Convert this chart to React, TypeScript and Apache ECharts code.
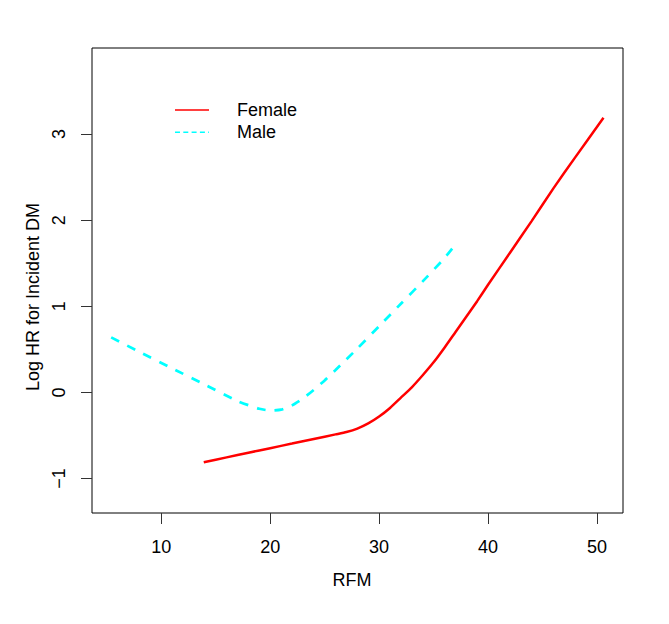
import React, { useEffect, useRef } from "react";
import * as echarts from "echarts";

const femaleX = [13.9, 16, 18, 20, 22, 24, 26, 27, 28, 29, 30, 31, 32, 33, 34, 35, 36, 37, 38, 39, 40, 42, 44, 46, 48, 50.6];
const femaleY = [-0.81, -0.754, -0.7, -0.647, -0.594, -0.54, -0.487, -0.46, -0.42, -0.36, -0.28, -0.18, -0.06, 0.06, 0.2, 0.35, 0.52, 0.7, 0.88, 1.06, 1.25, 1.62, 1.99, 2.37, 2.73, 3.19];
const maleX = [5.4, 8, 11, 14, 17, 19, 20, 21, 22, 23, 24, 25, 26, 28, 30, 32, 34, 36, 37.2];
const maleY = [0.64, 0.47, 0.28, 0.09, -0.1, -0.19, -0.21, -0.2, -0.15, -0.07, 0.03, 0.14, 0.26, 0.51, 0.77, 1.03, 1.29, 1.56, 1.75];
const xTicks = [10, 20, 30, 40, 50];
const yTicks = [-1, 0, 1, 2, 3];
const seriesNames = ["Female", "Male"];
const xTitle = "RFM";
const yTitle = "Log HR for Incident DM";

const FONT = "'Liberation Sans', Arial, Helvetica, sans-serif";

export default function App() {
  const ref = useRef<HTMLDivElement>(null);
  useEffect(() => {
    const chart = echarts.init(ref.current!, null, { renderer: "svg" });
    const zip = (xs: number[], ys: number[]) => xs.map((x, i) => [x, ys[i]]);
    chart.setOption({
      animation: false,
      backgroundColor: "#ffffff",
      grid: {
        left: 92,
        right: 46,
        top: 48,
        bottom: 111,
        show: true,
        borderColor: "#000",
        borderWidth: 1,
        backgroundColor: "transparent",
      },
      xAxis: {
        type: "value",
        min: 3.64,
        max: 52.39,
        axisLine: { show: false, onZero: false },
        splitLine: { show: false },
        axisTick: { show: true, length: 11, customValues: xTicks, lineStyle: { color: "#333", width: 1 } },
        axisLabel: { customValues: xTicks, margin: 25, fontSize: 18, fontFamily: FONT, color: "#000" },
      },
      yAxis: {
        type: "value",
        min: -1.4,
        max: 4.0,
        axisLine: { show: false, onZero: false },
        splitLine: { show: false },
        axisTick: { show: true, length: 11, customValues: yTicks, lineStyle: { color: "#333", width: 1 } },
        axisLabel: {
          customValues: yTicks,
          rotate: 90,
          margin: 24,
          fontSize: 18,
          fontFamily: FONT,
          color: "#000",
          formatter: (v: number) => String(v).replace("-", "\u2212"),
        },
      },
      series: [
        {
          name: seriesNames[0],
          type: "line",
          data: zip(femaleX, femaleY),
          symbol: "none",
          smooth: 0.2,
          lineStyle: { color: "#FF0000", width: 2.5 },
        },
        {
          name: seriesNames[1],
          type: "line",
          data: zip(maleX, maleY),
          symbol: "none",
          smooth: 0.2,
          lineStyle: { color: "#00FFFF", width: 2.7, type: [9, 9] },
        },
      ],
      graphic: [
        { type: "line", shape: { x1: 175, y1: 110, x2: 209, y2: 110 }, style: { stroke: "#FF0000", lineWidth: 1.3 } },
        { type: "line", shape: { x1: 175, y1: 132.3, x2: 209, y2: 132.3 }, style: { stroke: "#00FFFF", lineWidth: 1.5, lineDash: [5, 3.3] } },
        { type: "text", x: 237, y: 110, style: { text: seriesNames[0], fill: "#000", font: `18px ${FONT}`, textAlign: "left", textVerticalAlign: "middle" } },
        { type: "text", x: 237, y: 132.3, style: { text: seriesNames[1], fill: "#000", font: `18px ${FONT}`, textAlign: "left", textVerticalAlign: "middle" } },
        { type: "text", x: 352, y: 580, style: { text: xTitle, fill: "#000", font: `18px ${FONT}`, textAlign: "center", textVerticalAlign: "middle" } },
        { type: "text", x: 32.5, y: 297, rotation: Math.PI / 2, style: { text: yTitle, fill: "#000", font: `18px ${FONT}`, textAlign: "center", textVerticalAlign: "middle" } },
      ],
    });
    return () => chart.dispose();
  }, []);
  return <div ref={ref} style={{ position: "fixed", left: 0, top: 0, width: 669, height: 624 }} />;
}
